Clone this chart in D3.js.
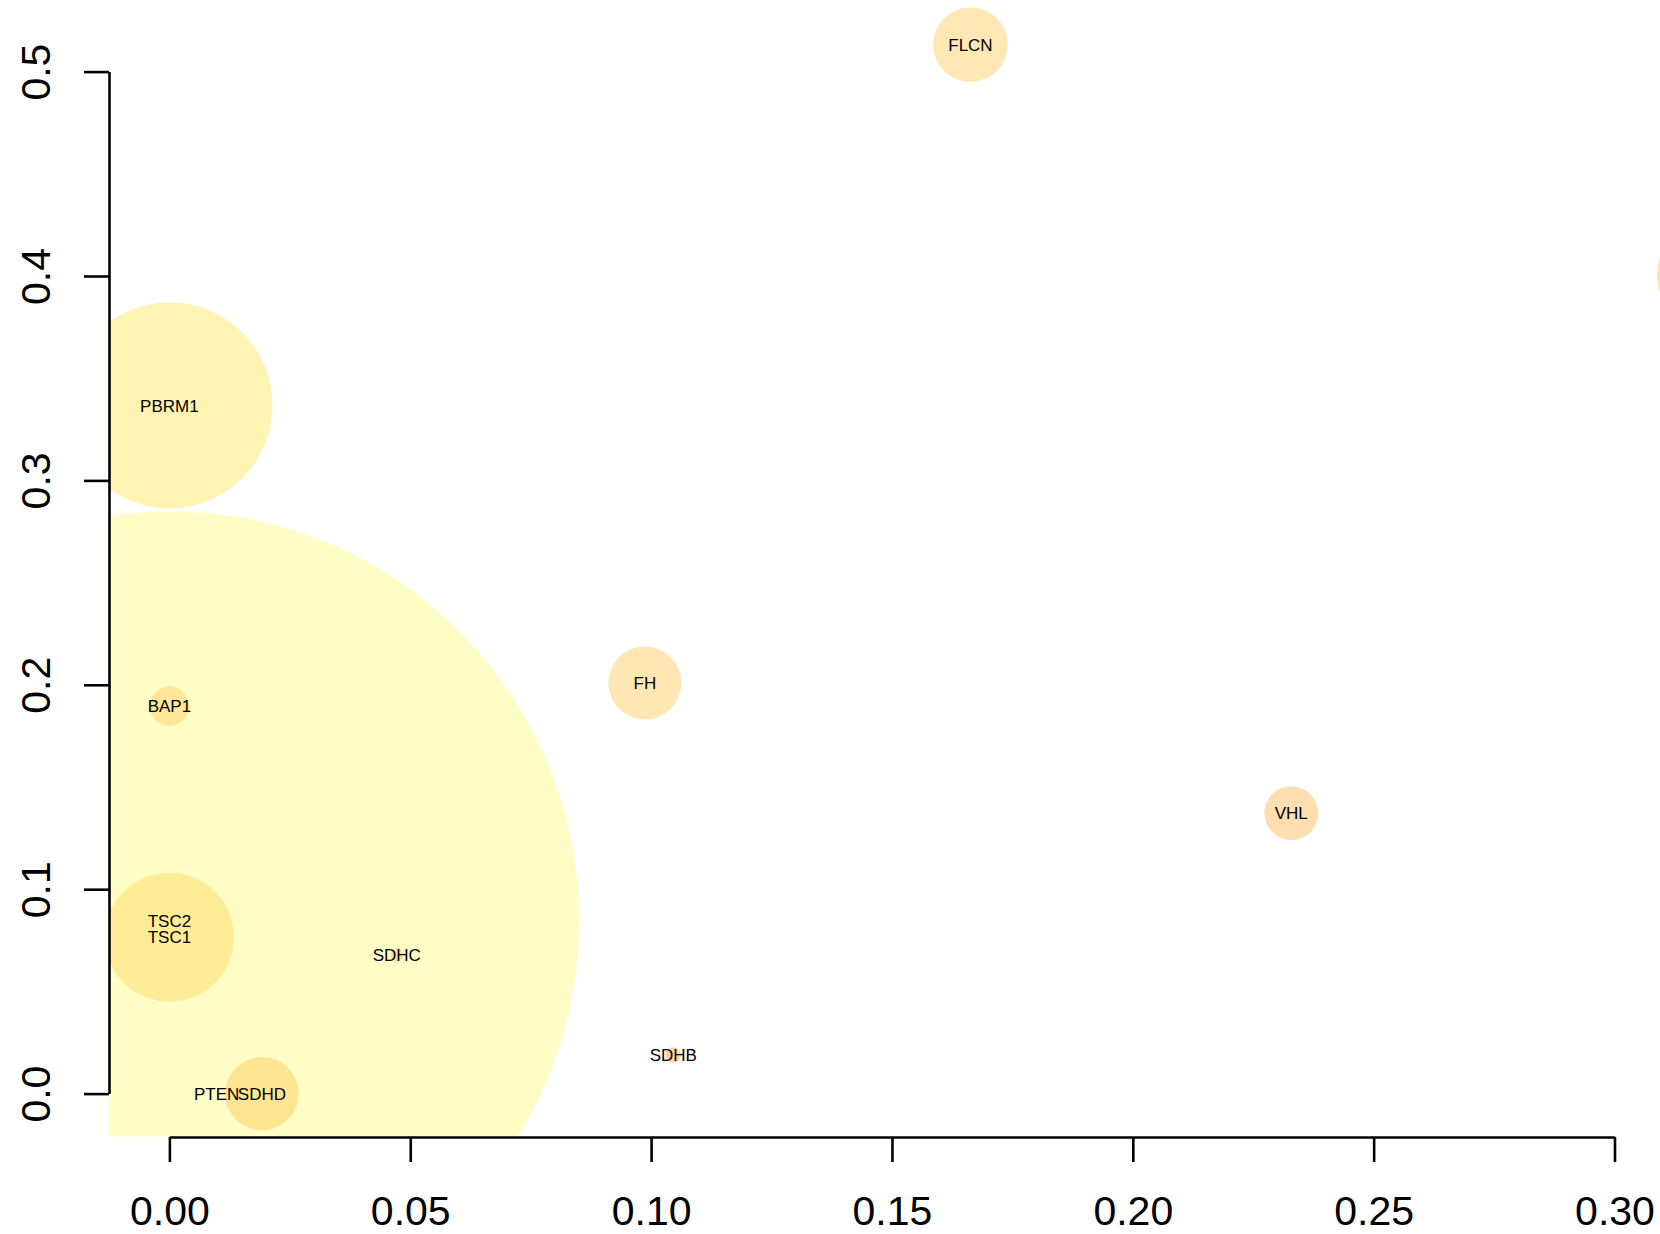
<!DOCTYPE html>
<html>
<head>
<meta charset="utf-8">
<script src="https://cdn.jsdelivr.net/npm/d3@7"></script>
<style>
  html, body { margin: 0; padding: 0; background: #fff; }
  svg text { font-family: "Liberation Sans", Arial, Helvetica, sans-serif; }
</style>
</head>
<body>
<div class="chart"></div>
<script>
// Genes plotted as bubbles (last one sits past the right edge, its label is off canvas)
const genes = ["TSC2", "PBRM1", "TSC1", "FLCN", "FH", "SDHD", "VHL", "BAP1", "SDHB", "SDHC", "PTEN", ""];
// x and y values of every bubble
const xValues = [0, 0, 0, 0.1663, 0.0987, 0.0192, 0.2329, 0, 0.1046, 0.0472, 0.0098, 0.32];
const yValues = [0.0844, 0.3367, 0.0765, 0.5132, 0.2009, 0, 0.1372, 0.1896, 0.0189, 0.0678, 0, 0.4005];
// circle radius, in x-axis units (like symbols(circles=...))
const radii = [0.0851, 0.0214, 0.0134, 0.00774, 0.00758, 0.00762, 0.0056, 0.00409, 0.0016, 0.00145, 0, 0.0112];
// fill colours of the bubbles
const fills = ["#FFFDC6", "#FFF4B4", "#FFEC97", "#FFE8B5", "#FFE7B3", "#FFE492", "#FFDEB1", "#FFE698", "#FDD4B2", "#FFE59C", "#FFE8A0", "#FFE4AE"];

// Tick labels
const xTicks = [0, 0.05, 0.10, 0.15, 0.20, 0.25, 0.30];
const yTicks = [0, 0.1, 0.2, 0.3, 0.4, 0.5];

// Page + plot settings
const width = 1660;
const height = 1234;
const plotLeft = 109;
const plotBottom = 1137;
const tickLen = 25;
const axisWidth = 2.6;

const data = genes.map((g, i) => ({
  gene: g,
  x: xValues[i],
  y: yValues[i],
  r: radii[i],
  fill: fills[i]
}));

const svg = d3.select(".chart")
  .append("svg")
    .attr("width", width)
    .attr("height", height);

// Scales: the ticks sit where the R plot put them
const x = d3.scaleLinear()
  .domain([0, 0.3])
  .range([169.4, 1614.5]);

const y = d3.scaleLinear()
  .domain([0, 0.5])
  .range([1093.6, 71.6]);

// radius uses the x-axis unit length
const r = d3.scaleLinear()
  .domain([0, 0.3])
  .range([0, x(0.3) - x(0)]);

// Clip bubbles to the plot region (left + bottom edges are visible)
svg.append("clipPath")
    .attr("id", "plot-clip")
  .append("rect")
    .attr("x", plotLeft)
    .attr("y", 0)
    .attr("width", width - plotLeft + 200)
    .attr("height", plotBottom - 0.5);

const plot = svg.append("g")
  .attr("clip-path", "url(#plot-clip)");

// Big circles first so the small ones stay on top
const sorted = data.slice().sort((a, b) => b.r - a.r);

plot.selectAll("circle")
  .data(sorted.filter(d => d.r > 0))
  .enter()
  .append("circle")
    .attr("cx", d => x(d.x))
    .attr("cy", d => y(d.y))
    .attr("r", d => r(d.r))
    .attr("fill", d => d.fill);

plot.selectAll("text")
  .data(data.filter(d => d.gene !== ""))
  .enter()
  .append("text")
    .attr("x", d => x(d.x))
    .attr("y", d => y(d.y))
    .attr("dy", "0.36em")
    .attr("text-anchor", "middle")
    .attr("font-size", "17px")
    .attr("fill", "#000")
    .text(d => d.gene);

// X axis
const xAxis = svg.append("g")
  .attr("transform", `translate(0, ${plotBottom})`)
  .call(d3.axisBottom(x)
    .tickValues(xTicks)
    .tickFormat(d3.format(".2f"))
    .tickSize(tickLen)
    .tickSizeOuter(0));

xAxis.selectAll(".tick text")
  .attr("y", 88)
  .attr("dy", null)
  .attr("font-size", "41px")
  .attr("fill", "#000");

// Y axis, labels turned like R's default las=0
const yAxis = svg.append("g")
  .attr("transform", `translate(${plotLeft}, 0)`)
  .call(d3.axisLeft(y)
    .tickValues(yTicks)
    .tickFormat(d3.format(".1f"))
    .tickSize(tickLen)
    .tickSizeOuter(0));

yAxis.selectAll(".tick text")
  .attr("x", null)
  .attr("dy", null)
  .attr("text-anchor", "middle")
  .attr("transform", `translate(${50 - plotLeft}, 0) rotate(-90)`)
  .attr("font-size", "41px")
  .attr("fill", "#000");

svg.selectAll(".domain, .tick line")
  .attr("stroke", "#000")
  .attr("stroke-width", axisWidth);
</script>
</body>
</html>
